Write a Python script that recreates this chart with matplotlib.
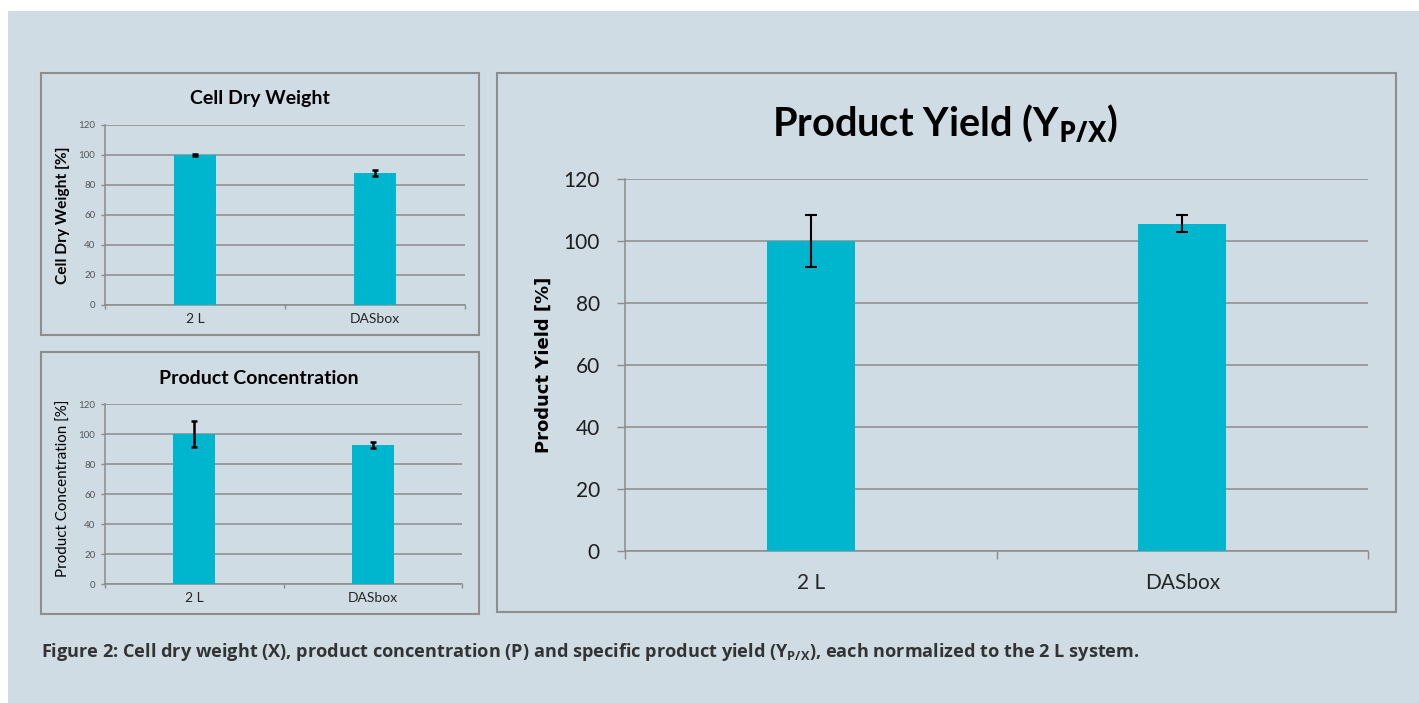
import matplotlib
matplotlib.use("Agg")
import matplotlib.pyplot as plt
from matplotlib.patches import Rectangle

# ---- data ----
categories = ["2 L", "DASbox"]
cdw_values = [100.0, 88.0]
cdw_errors = [0.5, 1.8]
conc_values = [100.0, 93.0]
conc_errors = [8.5, 2.0]
yield_values = [100.0, 105.6]
yield_errors = [8.5, 2.7]
y_ticks = [0, 20, 40, 60, 80, 100, 120]

W, H = 1419, 703
BG = "#CFDCE4"
BAR = "#00B5CE"
GRID = "#8C8C8C"
BORDER = "#8E8E8E"

plt.rcParams["mathtext.fontset"] = "custom"
plt.rcParams["mathtext.rm"] = "Lato:bold"
plt.rcParams["mathtext.bf"] = "Lato:bold"

fig = plt.figure(figsize=(W / 100, H / 100), dpi=100, facecolor="white")


def px_rect(x0, y0, x1, y1):
    return [x0 / W, 1 - y1 / H, (x1 - x0) / W, (y1 - y0) / H]


# background panel
bg = Rectangle((8 / W, 0), 1 - 8 / W, 1 - 11 / H, transform=fig.transFigure,
               facecolor=BG, edgecolor="none", zorder=-10)
fig.patches.append(bg)

# chart frames
for (x0, y0, x1, y1) in [(41, 73, 479, 335), (41, 352, 479, 614), (497, 73, 1396, 612)]:
    r = Rectangle((x0 / W, 1 - y1 / H), (x1 - x0) / W, (y1 - y0) / H,
                  transform=fig.transFigure, facecolor="none",
                  edgecolor=BORDER, linewidth=1.5, zorder=-5)
    fig.patches.append(r)


def make_panel(rect, values, errors, ylabel, ylabel_kw, tick_fs, xtick_fs,
               bar_w, capsize, elw, xpad, ylabel_pos, ytick_len, ytick_pad,
               ytick_color, xtick_len, tick_font="Lato"):
    ax = fig.add_axes(rect)
    ax.set_facecolor("none")
    x = list(range(len(categories)))
    ax.bar(x, values, width=bar_w, color=BAR, zorder=3)
    ax.errorbar(x, values, yerr=errors, fmt="none", ecolor="black",
                elinewidth=elw, capsize=capsize, capthick=elw, zorder=4)
    ax.set_xlim(-0.5, len(categories) - 0.5)
    ax.set_ylim(0, 120)
    ax.set_yticks(y_ticks)
    ax.set_yticklabels([str(t) for t in y_ticks], fontsize=tick_fs,
                       family=tick_font, color=ytick_color)
    ax.set_xticks(x)
    ax.set_xticklabels(categories, fontsize=xtick_fs, family=tick_font, color="#262626")
    ax.set_xticks([-0.5 + i for i in range(len(categories) + 1)], minor=True)
    ax.tick_params(axis="x", which="major", length=0, pad=xpad)
    ax.tick_params(axis="x", which="minor", length=xtick_len, width=1, color=GRID,
                   direction="out")
    ax.tick_params(axis="y", which="major", length=ytick_len, width=1, color=GRID,
                   pad=ytick_pad)
    ax.grid(axis="y", color=GRID, linewidth=1.1, zorder=1)
    ax.set_axisbelow(True)
    for s in ["top", "right"]:
        ax.spines[s].set_visible(False)
    for s in ["left", "bottom"]:
        ax.spines[s].set_color(GRID)
        ax.spines[s].set_linewidth(1.1)
    ax.set_ylabel(ylabel, **ylabel_kw)
    ax.yaxis.set_label_coords(*ylabel_pos)
    return ax


# Panel 1: Cell Dry Weight
make_panel(px_rect(105, 125, 465, 305), cdw_values, cdw_errors,
           "Cell Dry Weight [%]",
           dict(fontsize=11.2, fontweight="bold", family="Lato", color="black"),
           7, 10, 0.233, 2.5, 1.8, 6, (-0.097, 0.5), 3, 4, "#555555", 3)
fig.text(260 / W, 1 - 104 / H, "Cell Dry Weight", ha="center", va="baseline",
         fontsize=14, fontweight="bold", family="Lato", color="black")

# Panel 2: Product Concentration
make_panel(px_rect(105, 404, 462, 584), conc_values, conc_errors,
           "Product Concentration [%]",
           dict(fontsize=10.9, family="Lato", color="black"),
           7, 10, 0.235, 2.5, 1.8, 6, (-0.095, 0.53), 3, 4, "#555555", 3)
fig.text(259 / W, 1 - 384 / H, "Product Concentration", ha="center", va="baseline",
         fontsize=14, fontweight="bold", family="Lato", color="black")

# Panel 3: Product Yield
make_panel(px_rect(625, 179, 1368, 551), yield_values, yield_errors,
           "Product Yield [%]",
           dict(fontsize=13, fontweight="bold", family="DejaVu Sans", color="black"),
           15, 15, 0.237, 4, 1.5, 16, (-0.097, 0.5), 6, 12, "#1E1E1E", 5.5)
fig.text(945 / W, 1 - 136 / H, r"Product Yield (Y$_{\mathbf{P/X}}$)", ha="center",
         va="baseline", fontsize=28.5, fontweight="bold", family="Lato", color="black")

# caption
plt.rcParams["mathtext.rm"] = "Open Sans:bold"
plt.rcParams["mathtext.bf"] = "Open Sans:bold"
fig.text(41 / W, 1 - 657 / H,
         r"Figure 2: Cell dry weight (X), product concentration (P) and specific product yield (Y$_{\mathbf{P/X}}$), each normalized to the 2 L system.",
         ha="left", va="baseline", fontsize=13.1, fontweight="bold",
         family="Open Sans", color="#333333")

fig.savefig("out.png", dpi=100, facecolor="white")
